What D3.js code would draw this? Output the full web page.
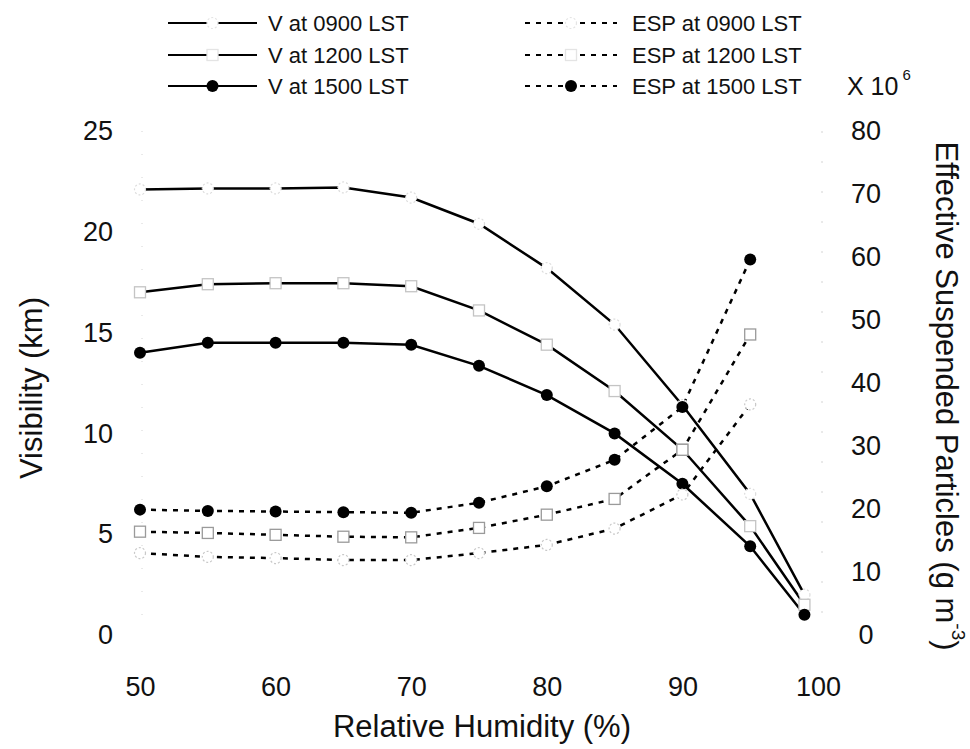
<!DOCTYPE html>
<html>
<head>
<meta charset="utf-8">
<script src="https://cdn.jsdelivr.net/npm/d3@7"></script>
<style>
  body { margin: 0; background: #fff; }
  svg text { font-family: 'Liberation Sans', Arial, sans-serif; fill: #111; }
</style>
</head>
<body>
<svg id="chart" width="970" height="749"></svg>
<script>
// relative humidity (%) for the visibility series
const rhV = [50, 55, 60, 65, 70, 75, 80, 85, 90, 95, 99];
// relative humidity (%) for the ESP series
const rhE = [50, 55, 60, 65, 70, 75, 80, 85, 90, 95];

// visibility (km), left axis
const v0900 = [22.1, 22.15, 22.15, 22.2, 21.7, 20.4, 18.2, 15.4, 11.4, 7.0, 2.0];
const v1200 = [17.0, 17.4, 17.45, 17.45, 17.3, 16.1, 14.4, 12.1, 9.2, 5.4, 1.5];
const v1500 = [14.0, 14.5, 14.5, 14.5, 14.4, 13.35, 11.9, 10.0, 7.5, 4.4, 1.0];

// effective suspended particles (x 10^6 g m^-3), right axis
const esp0900 = [13.0, 12.4, 12.2, 11.9, 11.9, 13.0, 14.3, 16.9, 22.3, 36.6];
const esp1200 = [16.4, 16.2, 15.9, 15.6, 15.5, 17.0, 19.1, 21.6, 29.4, 47.7];
const esp1500 = [19.9, 19.7, 19.6, 19.5, 19.4, 21.0, 23.6, 27.8, 36.2, 59.6];

const xTicks = [50, 60, 70, 80, 90, 100];
const leftTicks = [0, 5, 10, 15, 20, 25];
const rightTicks = [0, 10, 20, 30, 40, 50, 60, 70, 80];

const svg = d3.select('#chart');

const x = d3.scaleLinear().domain([50, 100]).range([140, 818]);
const yL = d3.scaleLinear().domain([0, 25]).range([635, 131]);
const yR = d3.scaleLinear().domain([0, 80]).range([635, 131]);

// faint axis lines, as in the scanned original
svg.append('line')
  .attr('x1', x(50) + 2).attr('x2', x(50) + 2)
  .attr('y1', yL(25)).attr('y2', yL(0))
  .attr('stroke', '#d4d4d4').attr('stroke-dasharray', '1,22');
svg.append('line')
  .attr('x1', 822).attr('x2', 822)
  .attr('y1', yR(80)).attr('y2', yR(0))
  .attr('stroke', '#d4d4d4').attr('stroke-dasharray', '2,28');

// axes: labels only
const axL = svg.append('g')
  .attr('transform', 'translate(140,0)')
  .call(d3.axisLeft(yL).tickValues(leftTicks).tickSize(0).tickPadding(27));
const axB = svg.append('g')
  .attr('transform', 'translate(0,635)')
  .call(d3.axisBottom(x).tickValues(xTicks).tickSize(0).tickPadding(42));
const axR = svg.append('g')
  .attr('transform', 'translate(822,0)')
  .call(d3.axisRight(yR).tickValues(rightTicks).tickSize(0).tickPadding(44));

[axL, axB, axR].forEach(function (g) {
  g.select('.domain').remove();
  g.selectAll('text')
    .style('font-size', '27px')
    .style('font-family', "'Liberation Sans', Arial, sans-serif")
    .attr('fill', '#111');
});
axR.selectAll('text').attr('text-anchor', 'middle');

// axis titles
svg.append('text')
  .attr('transform', 'translate(31,388) rotate(-90)')
  .attr('text-anchor', 'middle').attr('dominant-baseline', 'central')
  .style('font-size', '31px')
  .text('Visibility (km)');

svg.append('text')
  .attr('x', 482).attr('y', 726)
  .attr('text-anchor', 'middle').attr('dominant-baseline', 'central')
  .style('font-size', '31px')
  .text('Relative Humidity (%)');

const rt = svg.append('text')
  .attr('transform', 'translate(947,396) rotate(90)')
  .attr('text-anchor', 'middle').attr('dominant-baseline', 'central')
  .style('font-size', '31px');
rt.append('tspan').text('Effective Suspended Particles (g m');
rt.append('tspan').attr('dy', -12).style('font-size', '19px').text('-3');
rt.append('tspan').attr('dy', 12).text(')');

const xe = svg.append('text')
  .attr('x', 847).attr('y', 86)
  .attr('dominant-baseline', 'central')
  .style('font-size', '25px');
xe.append('tspan').text('X 10');
xe.append('tspan').attr('dy', -12).attr('dx', 4).style('font-size', '15px').text('6');

// series definitions
const series = [
  {name: 'V at 0900 LST', xs: rhV, ys: v0900, y: yL, dash: null, marker: 'circle', faint: '#dcdcdc'},
  {name: 'V at 1200 LST', xs: rhV, ys: v1200, y: yL, dash: null, marker: 'square', faint: '#c4c4c4'},
  {name: 'V at 1500 LST', xs: rhV, ys: v1500, y: yL, dash: null, marker: 'dot'},
  {name: 'ESP at 0900 LST', xs: rhE, ys: esp0900, y: yR, dash: '5,6', marker: 'circle', faint: '#c8c8c8'},
  {name: 'ESP at 1200 LST', xs: rhE, ys: esp1200, y: yR, dash: '5,6', marker: 'square', faint: '#9a9a9a'},
  {name: 'ESP at 1500 LST', xs: rhE, ys: esp1500, y: yR, dash: '5,6', marker: 'dot'}
];

function drawMarker(g, type, cx, cy, faint) {
  if (type === 'dot') {
    g.append('circle').attr('cx', cx).attr('cy', cy).attr('r', 6).attr('fill', '#000');
  } else if (type === 'square') {
    g.append('rect').attr('x', cx - 5.5).attr('y', cy - 5.5).attr('width', 11).attr('height', 11)
      .attr('fill', '#fff').attr('stroke', faint).attr('stroke-width', 1.3);
  } else {
    g.append('circle').attr('cx', cx).attr('cy', cy).attr('r', 5.5)
      .attr('fill', '#fff').attr('stroke', faint).attr('stroke-width', 1.2).attr('stroke-dasharray', '2,2');
  }
}

const plot = svg.append('g');
const lineLayer = plot.append('g');
const markLayer = plot.append('g');

series.forEach(function (s) {
  const pts = s.xs.map(function (v, i) { return [v, s.ys[i]]; });
  const line = d3.line()
    .x(function (d) { return x(d[0]); })
    .y(function (d) { return s.y(d[1]); });
  lineLayer.append('path')
    .attr('d', line(pts))
    .attr('fill', 'none')
    .attr('stroke', '#000')
    .attr('stroke-width', 2.5)
    .attr('stroke-dasharray', s.dash);
  pts.forEach(function (d) {
    drawMarker(markLayer, s.marker, x(d[0]), s.y(d[1]), s.faint);
  });
});

// legend
const legendRows = [23, 55, 86];
const legendCols = [{x1: 168, x2: 257, tx: 268}, {x1: 525, x2: 617, tx: 632}];
const legend = svg.append('g');
series.forEach(function (s, i) {
  const col = legendCols[Math.floor(i / 3)];
  const ry = legendRows[i % 3];
  legend.append('line')
    .attr('x1', col.x1).attr('x2', col.x2).attr('y1', ry).attr('y2', ry)
    .attr('stroke', '#000').attr('stroke-width', 2)
    .attr('stroke-dasharray', s.dash);
  drawMarker(legend, s.marker, (col.x1 + col.x2) / 2, ry, s.marker === 'dot' ? null : '#e4e4e4');
  legend.append('text')
    .attr('x', col.tx).attr('y', ry)
    .attr('dominant-baseline', 'central')
    .style('font-size', '22px')
    .text(s.name);
});
</script>
</body>
</html>
